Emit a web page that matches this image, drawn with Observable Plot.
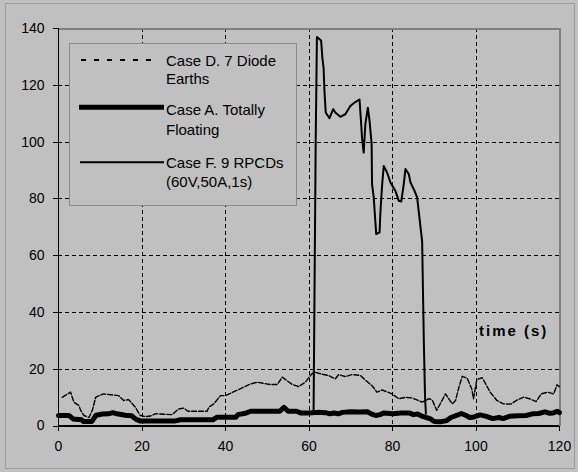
<!DOCTYPE html>
<html><head><meta charset="utf-8">
<script src="https://cdn.jsdelivr.net/npm/d3@7"></script>
<script src="https://cdn.jsdelivr.net/npm/@observablehq/plot@0.6"></script>
<style>
html,body{margin:0;padding:0;background:#c0c0c0;}
#wrap{position:relative;width:578px;height:472px;font-family:"Liberation Sans",Arial,sans-serif;}
#frame{position:absolute;left:5px;top:3px;width:570px;height:466px;border:1px solid #9c9c9c;box-sizing:border-box;}
#wrap svg{position:absolute;left:0;top:0;}
</style>
</head><body>
<div id="wrap"><div id="frame"></div></div>
<script>
// Tick values
const xTicks = [0, 20, 40, 60, 80, 100, 120];
const yTicks = [0, 20, 40, 60, 80, 100, 120, 140];

// Series names
const seriesNames = ["Case D. 7 Diode Earths", "Case A. Totally Floating", "Case F. 9 RPCDs (60V,50A,1s)"];

// Case D (dashed, thin)
const caseDx = [0.9,2.9,3.7,4.9,5.3,6.1,7.3,8.1,8.9,9.7,10.8,14.4,15.6,16.8,18.4,19.6,20.8,22,23.2,27.2,28.8,30,31,35.6,36,37.2,38.8,40,46,47.6,49.2,50.8,52.4,53.6,56,57.5,59.1,60.7,61.5,62.7,64.7,66.3,67.1,68.7,70.3,72.3,73.5,75.1,76.3,77.5,79.9,81.5,83.1,84.7,87.1,88.7,89.5,90.6,91.5,92.7,94.3,95.1,95.9,96.7,97.9,99,99.4,100.2,101.5,103.4,105,106.6,108.3,109.9,111.5,113,114.4,115.6,117.2,118.6,119.4,120];
const caseDy = [10.1,11.9,8.4,7.2,5.5,3.7,3.0,5.5,10.1,10.7,11.3,10.7,9.0,9.3,6.6,3.7,3.3,3.5,4.3,4.0,6.0,6.3,5.2,5.2,6.6,7.8,10.7,10.7,14.8,15.4,15.0,14.6,14.6,17.2,14.6,13.9,15.4,18.4,18.9,18.4,17.8,16.6,18.1,17.4,18.1,17.8,16.2,14.2,11.9,12.7,11.3,9.6,10.1,9.9,8.4,9.6,9.2,5.5,8.0,11.3,7.8,9.0,13.6,17.5,16.8,13.0,9.6,16.4,17.0,11.9,9.0,7.8,7.7,9.2,10.2,9.5,8.6,11.3,11.9,11.3,14.5,13.8];

// Case A (thick)
const caseAx = [0,2.5,3.5,5.5,6,8,9,10.5,12,13,14,16,17.5,18.5,19.5,22,28,29.2,37,38,42.5,43,45,46,53,54,55,57,58,60,62,64,65,66,67,68,70,72,74,75,76,77,78,80,82,84,85,86,87,88,89,90,91.5,93,94,95.5,96.5,97.5,98.5,99.5,101,102.5,104,105.5,106.5,108,110,112,113.5,115,116.5,117.5,118.5,119.5,120];
const caseAy = [3.7,3.7,2.5,2.2,1.6,1.6,3.8,4.2,4.3,4.7,4.3,3.8,3.6,2.4,1.8,1.8,1.8,2.2,2.2,3.1,3.1,4.0,4.6,5.2,5.2,6.6,5.2,5.2,4.6,4.6,4.8,4.7,4.3,4.6,4.3,4.8,5.0,4.9,5.0,4.2,3.7,4.0,4.6,4.3,4.6,4.6,4.0,4.2,3.5,3.0,2.6,1.6,1.5,1.9,3.0,3.8,4.4,3.8,3.0,3.2,3.9,3.4,2.6,3.0,2.6,3.4,3.6,3.7,4.3,4.4,5.0,4.5,4.6,5.2,4.7];

// Case F (thin solid)
const caseFx = [60.8,61.1,61.6,61.9,62.9,63.2,63.5,63.7,64,64.9,65.8,66.3,67.5,68.7,69.9,71.1,72.1,72.5,72.7,73.1,73.5,74.1,74.5,75,75.1,75.5,76.1,76.9,77.1,77.5,77.9,78.7,79.5,80.7,81.5,82.1,82.7,83.1,83.9,84.3,85.1,85.9,87.1,87.5,87.8,88];
const caseFy = [4.6,5,100,137,135.8,129.7,126,118,110.4,108.4,111.6,110.4,108.9,109.8,112.7,114.1,115,106.3,101.6,96.3,106.3,112.1,107.5,99.3,85.2,80.5,67.6,68.2,75.2,84.6,91.6,89.3,85.8,82.8,79.3,79.1,85.2,90.5,88.7,85.8,83.4,80.5,65,30,10,4.3];

const toRows = (xs, ys) => xs.map((x, i) => ({x, y: ys[i]}));
const dRows = toRows(caseDx, caseDy);
const aRows = toRows(caseAx, caseAy);
const fRows = toRows(caseFx, caseFy);

const xMax = xTicks[xTicks.length - 1];
const yMax = yTicks[yTicks.length - 1];
const innerX = xTicks.filter(v => v > 0 && v < xMax);
const innerY = yTicks.filter(v => v > 0 && v < yMax);
const crisp = {shapeRendering: "crispEdges"};

const chart = Plot.plot({
  width: 578,
  height: 472,
  marginLeft: 58,
  marginRight: 19,
  marginTop: 28,
  marginBottom: 46.5,
  style: {background: "transparent", fontSize: "14px", fontFamily: "'Liberation Sans', Arial, sans-serif", color: "black"},
  x: {domain: [0, xMax]},
  y: {domain: [0, yMax]},
  marks: [
    Plot.ruleX(innerX, {stroke: "black", strokeDasharray: "4,3", strokeWidth: 1, ...crisp}),
    Plot.ruleY(innerY, {stroke: "black", strokeDasharray: "4,3", strokeWidth: 1, ...crisp}),
    Plot.ruleY([yMax], {stroke: "#808080", strokeWidth: 2, ...crisp}),
    Plot.ruleX([xMax], {stroke: "#808080", strokeWidth: 2, ...crisp}),
    Plot.ruleX([0], {stroke: "black", strokeWidth: 1.3, ...crisp}),
    Plot.ruleY([0], {stroke: "black", strokeWidth: 1.3, ...crisp}),
    Plot.axisX({ticks: xTicks, tickSize: 5, tickPadding: 10, label: null, stroke: "black", fill: "black", ...crisp}),
    Plot.axisY({ticks: yTicks, tickSize: 5, tickPadding: 9, label: null, stroke: "black", fill: "black", ...crisp}),
    Plot.line(dRows, {x: "x", y: "y", stroke: "black", strokeWidth: 1.4, strokeDasharray: "5,2"}),
    Plot.line(aRows, {x: "x", y: "y", stroke: "black", strokeWidth: 5}),
    Plot.line(fRows, {x: "x", y: "y", stroke: "black", strokeWidth: 2})
  ]
});
const wrap = document.getElementById("wrap");
wrap.appendChild(chart);

// Overlay: legend and time label
const ns = "http://www.w3.org/2000/svg";
const ov = document.createElementNS(ns, "svg");
ov.setAttribute("width", 578); ov.setAttribute("height", 472);
ov.style.pointerEvents = "none";
ov.innerHTML = `
<rect x="69.5" y="43.5" width="227" height="162" fill="#c0c0c0" stroke="#8c8c8c" stroke-width="1" shape-rendering="crispEdges"/>
<line x1="81" x2="157" y1="60" y2="60" stroke="black" stroke-width="2" stroke-dasharray="5,8"/>
<line x1="79" x2="164" y1="107.3" y2="107.3" stroke="black" stroke-width="5"/>
<line x1="80" x2="164" y1="162.3" y2="162.3" stroke="black" stroke-width="2"/>
<g font-family="'Liberation Sans', Arial, sans-serif" font-size="15" fill="black">
<text x="166" y="65.5">Case D. 7 Diode</text>
<text x="166" y="83.5">Earths</text>
<text x="166" y="115">Case A. Totally</text>
<text x="166" y="135">Floating</text>
<text x="166" y="168">Case F. 9 RPCDs</text>
<text x="166" y="187">(60V,50A,1s)</text>
<text x="479" y="335.5" font-weight="bold" letter-spacing="2">time (s)</text>
</g>`;
wrap.appendChild(ov);
</script>
</body></html>
